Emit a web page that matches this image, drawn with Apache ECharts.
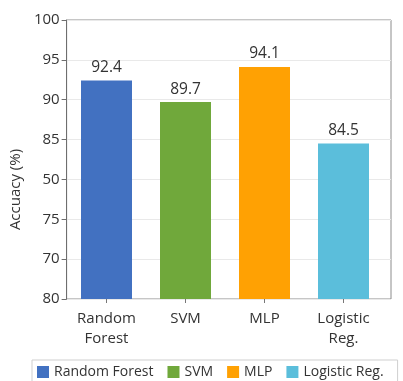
<!DOCTYPE html>
<html>
<head>
<meta charset="utf-8">
<script src="https://cdn.jsdelivr.net/npm/echarts@6/dist/echarts.min.js"></script>
<style>
  html, body { margin: 0; padding: 0; background: #fff; }
  #chart { width: 403px; height: 381px; }
</style>
</head>
<body>
<div id="chart"></div>
<script>
// Model names, axis labels and accuracy scores
const models = ['Random Forest', 'SVM', 'MLP', 'Logistic Reg.'];
const axisLabels = ['Random\nForest', 'SVM', 'MLP', 'Logistic\nReg.'];
const accuracy = [92.4, 89.7, 94.1, 84.5];
const colors = ['#4271c1', '#70a83b', '#ffa103', '#5bbedb'];

// y-axis tick values and the text printed beside each tick
const tickValues = [65, 70, 75, 80, 85, 90, 95, 100];
const tickLabels = ['80', '70', '75', '50', '85', '90', '95', '100'];

const FONT = 'Open Sans';

const chart = echarts.init(document.getElementById('chart'), null, { renderer: 'canvas' });

// one series per model so every model gets its own legend entry
const series = models.map((name, i) => ({
  name: name,
  type: 'bar',
  xAxisIndex: 1,
  yAxisIndex: 1,
  barWidth: 51,
  barGap: '-100%',
  itemStyle: { color: colors[i] },
  label: {
    show: true,
    position: 'top',
    distance: 5,
    fontFamily: FONT,
    fontSize: 15.5,
    color: '#333'
  },
  data: accuracy.map((v, j) => (j === i ? v : '-'))
}));

chart.setOption({
  animation: false,
  backgroundColor: '#fff',
  grid: [
    { left: 60, right: 12, top: 20, bottom: 82, show: true, borderColor: '#8c8c8c', borderWidth: 1 },
    { left: 67, right: 20, top: 20, bottom: 82 }
  ],
  legend: {
    left: 32,
    top: 360,
    width: 440,
    data: models,
    itemWidth: 12,
    itemHeight: 12,
    itemGap: 14,
    icon: 'rect',
    borderColor: '#cfcfcf',
    borderWidth: 1,
    padding: [5, 14, 10, 5],
    textStyle: { fontFamily: FONT, fontSize: 14, color: '#333' }
  },
  xAxis: [
    { gridIndex: 0, type: 'value', min: 0, max: 1, show: false },
    {
      gridIndex: 1,
      type: 'category',
      data: axisLabels,
      axisLine: { show: false },
      axisTick: { show: true, alignWithLabel: true, length: 4, lineStyle: { color: '#777' } },
      axisLabel: { fontFamily: FONT, fontSize: 15, color: '#333', margin: 10, lineHeight: 20 }
    }
  ],
  yAxis: [
    {
      gridIndex: 0,
      type: 'value',
      min: 65,
      max: 100,
      interval: 5,
      name: 'Accuacy (%)',
      nameLocation: 'middle',
      nameGap: 32,
      nameTextStyle: { fontFamily: FONT, fontSize: 15, color: '#333', padding: [0, 60, 0, 0] },
      axisLine: { show: true, lineStyle: { color: '#6e6e6e' } },
      axisTick: { show: true, length: 5, lineStyle: { color: '#6e6e6e' } },
      axisLabel: {
        fontFamily: FONT,
        fontSize: 15,
        color: '#333',
        margin: 7,
        formatter: v => tickLabels[tickValues.indexOf(v)]
      },
      splitLine: { show: true, lineStyle: { color: '#e9e9e9' } }
    },
    { gridIndex: 1, type: 'value', min: 65, max: 100, show: false }
  ],
  series: series
});
</script>
</body>
</html>
